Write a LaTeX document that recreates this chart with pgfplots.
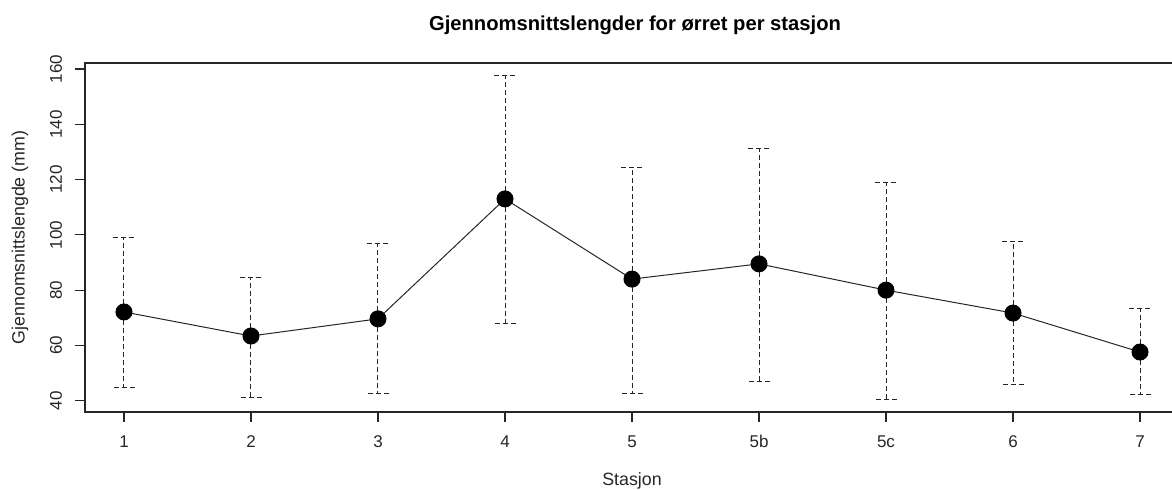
\documentclass[border=0pt]{standalone}
\usepackage{fontspec}
\setmainfont{Liberation Sans}
\usepackage{pgfplots}
\pgfplotsset{compat=1.18}
\usepackage{pgfplotstable}

\pgfplotstableread{
x y ep em
1 72.1 27.1 27.5
2 63.4 21.3 22.1
3 69.6 27.1 26.9
4 113.0 44.5 44.9
5 84.0 40.5 41.3
6 89.5 41.9 42.4
7 80.0 38.8 39.4
8 71.7 25.8 26.0
9 57.6 15.6 15.5
}\datatable

\begin{document}
\begin{tikzpicture}
\begin{axis}[
  at={(0,0)}, anchor=south west,
  scale only axis, width=547.5pt, height=174.5pt,
  xmin=0.693, xmax=9.315, ymin=35.9, ymax=162.2,
  xtick={1,...,9}, xticklabels={1,2,3,4,5,5b,5c,6,7},
  ytick={40,60,...,160},
  xtick pos=left, ytick pos=left,
  tick align=outside, major tick length=5pt,
  axis line style={black!85, line width=0.6pt},
  every tick/.style={black!85, line width=0.6pt},
  /pgf/number format/assume math mode=true,
  ticklabel style={font=\fontsize{8.5}{10}\selectfont, text=black!85},
  xticklabel style={anchor=base, inner sep=0pt},
  yticklabel style={rotate=90, anchor=center, inner sep=0pt},
  xticklabel shift={13pt},
  yticklabel shift={9.5pt},
]
\addplot[black, only marks, mark=none,
  error bars/.cd, y dir=both, y explicit,
  error bar style={black!85, line width=0.5pt, dash pattern=on 2.5pt off 1.5pt},
  error mark options={rotate=90, mark size=5.5pt, black!85, line width=0.5pt, dash pattern=on 2.5pt off 1.5pt}]
  table[x=x, y=y, y error plus=ep, y error minus=em] {\datatable};
\addplot[black!85, line width=0.5pt, mark=*, mark size=4pt,
  mark options={solid, fill=black, draw=black}]
  table[x=x, y=y] {\datatable};
\end{axis}
\node[font=\bfseries\fontsize{10.1}{12}\selectfont] at (275pt,193.5pt) {Gjennomsnittslengder for ørret per stasjon};
\node[font=\fontsize{8.9}{10.5}\selectfont, text=black!85] at (273.5pt,-34.5pt) {Stasjon};
\node[font=\fontsize{8.9}{10.5}\selectfont, text=black!85, rotate=90] at (-32.5pt,87.25pt) {Gjennomsnittslengde (mm)};
\pgfresetboundingbox
\path[use as bounding box] (-42.5pt,-39pt) rectangle (543.5pt,206pt);
\end{tikzpicture}
\end{document}
